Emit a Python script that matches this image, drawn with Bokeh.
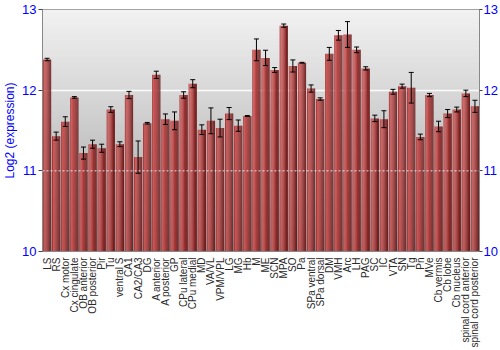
import numpy as np
from bokeh.plotting import figure
from bokeh.models import (ColumnDataSource, Range1d, FixedTicker, LinearAxis,
                          Whisker, TeeHead, Span)
from bokeh.transform import dodge
from bokeh.embed import file_html
from bokeh.resources import INLINE

regions = ["LS", "RS", "Cx motor", "Cx cingulate", "OB anterior", "OB posterior",
           "Pir", "Tu", "ventral S", "CA1", "CA2/CA3", "DG", "A anterior",
           "A posterior", "GP", "CPu lateral", "CPu medial", "MD", "VA/VL",
           "VPM/VPL", "LG", "MG", "Hb", "M", "ME", "SCN", "MPA", "SO", "Pa",
           "SPa ventral", "SPa dorsal", "DM", "VMH", "Arc", "LH", "PAG", "SC",
           "IC", "VTA", "SN", "Tg", "Pn", "MVe", "Cb vermis", "Cb lobe",
           "Cb nucleus", "spinal cord anterior", "spinal cord posterior"]
expression = [12.38, 11.43, 11.61, 11.91, 11.22, 11.33, 11.28, 11.76, 11.33,
              11.94, 11.17, 11.59, 12.19, 11.64, 11.62, 11.94, 12.08, 11.51,
              11.62, 11.53, 11.71, 11.56, 11.68, 12.50, 12.40, 12.25, 12.80,
              12.30, 12.34, 12.02, 11.89, 12.45, 12.68, 12.69, 12.50, 12.27,
              11.65, 11.64, 11.98, 12.05, 12.03, 11.42, 11.94, 11.55, 11.71,
              11.76, 11.96, 11.80]
error = [0.015, 0.05, 0.06, 0.01, 0.075, 0.05, 0.05, 0.035, 0.03, 0.045, 0.2,
         0.01, 0.045, 0.065, 0.11, 0.04, 0.05, 0.06, 0.16, 0.11, 0.075, 0.07,
         0.005, 0.135, 0.095, 0.03, 0.02, 0.075, 0.005, 0.045, 0.015, 0.08,
         0.06, 0.16, 0.035, 0.02, 0.04, 0.105, 0.03, 0.025, 0.19, 0.035, 0.02,
         0.065, 0.05, 0.03, 0.04, 0.075]
y_ticks = [10, 11, 12, 13]
y_title = "Log2 (expression)"

n = len(regions)
xs = list(range(n))
src = ColumnDataSource(dict(
    x=xs, top=expression,
    upper=[v + e for v, e in zip(expression, error)],
    lower=[v - e for v, e in zip(expression, error)],
))

p = figure(width=500, height=350, output_backend="svg", toolbar_location=None,
           x_range=Range1d(-0.5, n - 0.5), y_range=Range1d(y_ticks[0], y_ticks[-1]),
           min_border_left=35, min_border_right=19, min_border_top=9,
           min_border_bottom=99)
p.background_fill_color = "white"
p.border_fill_color = "white"
p.outline_line_color = "#888888"

# vertical gradient background
rows = 120
t = np.linspace(0, 1, rows)  # 0 bottom -> 1 top
bottom_c = np.array([150, 150, 150])
top_c = np.array([242, 242, 242])
cols = (bottom_c[None, :] + (top_c - bottom_c)[None, :] * (t[:, None] ** 0.8)).astype(np.uint32)
img = np.zeros((rows, 1), dtype=np.uint32)
view = img.view(dtype=np.uint8).reshape((rows, 1, 4))
view[:, 0, 0] = cols[:, 0]
view[:, 0, 1] = cols[:, 1]
view[:, 0, 2] = cols[:, 2]
view[:, 0, 3] = 255
bg = p.image_rgba(image=[img], x=-0.5, y=y_ticks[0], dw=n, dh=y_ticks[-1] - y_ticks[0])
bg.level = "image"

# grid
p.xgrid.visible = False
p.ygrid.ticker = FixedTicker(ticks=[12])
p.ygrid.grid_line_color = "white"
p.ygrid.grid_line_alpha = 0.9
p.ygrid.grid_line_width = 1.5

# bars with horizontal shading
bar_w = 0.9
shades = ["#a83434", "#c85252", "#c44c4c", "#ba4242", "#ab3838",
          "#9a2e2e", "#892424", "#781c1c", "#6c1818"]
k = len(shades)
sw = bar_w / k
for i, c in enumerate(shades):
    off = -bar_w / 2 + sw * (i + 0.5)
    p.vbar(x=dodge("x", off), width=sw * 1.05, top="top", bottom=y_ticks[0],
           source=src, fill_color=c, line_color=None)

w = Whisker(base="x", upper="upper", lower="lower", source=src,
            line_color="black", line_width=1,
            upper_head=TeeHead(size=5, line_color="black", line_width=1),
            lower_head=TeeHead(size=5, line_color="black", line_width=1))
w.level = "overlay"
p.add_layout(w)

p.add_layout(Span(location=11, dimension="width", line_color="white",
                  line_dash="2 2", line_alpha=0.8, line_width=1, level="overlay"))

# axes
blue = "#0000ff"
p.yaxis.ticker = FixedTicker(ticks=y_ticks)
p.yaxis.axis_label = y_title
p.yaxis.axis_label_text_color = blue
p.yaxis.axis_label_text_font = "Liberation Sans"
p.yaxis.axis_label_text_font_style = "normal"
p.yaxis.axis_label_text_font_size = "12px"
p.yaxis.axis_label_standoff = 2
p.yaxis.major_label_text_color = blue
p.yaxis.major_label_text_font = "Liberation Sans"
p.yaxis.major_label_text_font_size = "13px"
p.yaxis.major_label_standoff = 2
p.yaxis.minor_tick_line_color = None
p.yaxis.major_tick_out = 4
p.yaxis.major_tick_in = 0
p.yaxis.axis_line_color = "#888888"
p.yaxis.major_tick_line_color = "#444444"

ry = LinearAxis(ticker=FixedTicker(ticks=y_ticks))
ry.major_label_text_color = blue
ry.major_label_text_font = "Liberation Sans"
ry.major_label_text_font_size = "13px"
ry.major_label_standoff = 1
ry.minor_tick_line_color = None
ry.major_tick_out = 3
ry.major_tick_in = 0
ry.axis_line_color = "#888888"
ry.major_tick_line_color = "#444444"
p.add_layout(ry, "right")

p.xaxis.ticker = FixedTicker(ticks=xs)
p.xaxis.major_label_overrides = {i: r for i, r in enumerate(regions)}
p.xaxis.major_label_orientation = np.pi / 2
p.xaxis.major_label_text_font = "Liberation Sans"
p.xaxis.major_label_text_font_size = "10px"
p.xaxis.major_label_text_color = "#2a2a2a"
p.xaxis.major_label_standoff = 0
p.xaxis.major_tick_line_color = None
p.xaxis.minor_tick_line_color = None
p.xaxis.axis_line_color = "#888888"

open("out.html", "w").write(file_html(p, INLINE))
